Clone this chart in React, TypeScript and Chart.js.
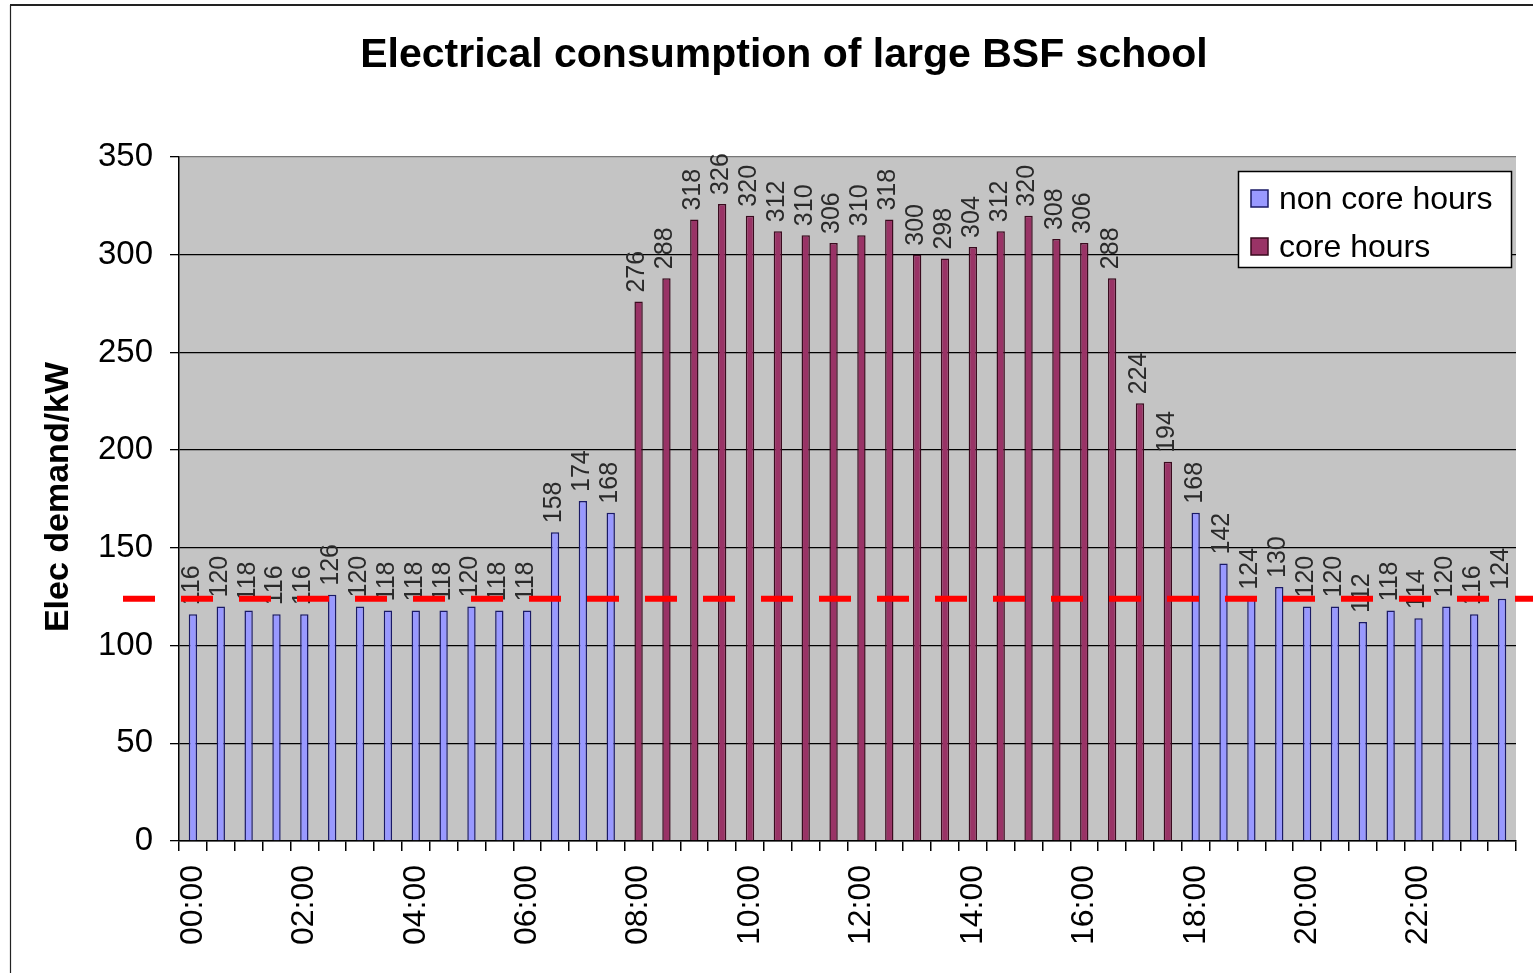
import React, { useEffect, useRef } from "react";
import { Chart, registerables } from "chart.js";

Chart.register(...registerables);

const TIME_LABELS = [
  "00:00", "00:30", "01:00", "01:30", "02:00", "02:30", "03:00", "03:30",
  "04:00", "04:30", "05:00", "05:30", "06:00", "06:30", "07:00", "07:30",
  "08:00", "08:30", "09:00", "09:30", "10:00", "10:30", "11:00", "11:30",
  "12:00", "12:30", "13:00", "13:30", "14:00", "14:30", "15:00", "15:30",
  "16:00", "16:30", "17:00", "17:30", "18:00", "18:30", "19:00", "19:30",
  "20:00", "20:30", "21:00", "21:30", "22:00", "22:30", "23:00", "23:30",
];

const NON_CORE_HOURS: (number | null)[] = [
  116, 120, 118, 116, 116, 126, 120, 118, 118, 118, 120, 118, 118, 158, 174, 168,
  null, null, null, null, null, null, null, null, null, null,
  null, null, null, null, null, null, null, null, null, null,
  168, 142, 124, 130, 120, 120, 112, 118, 114, 120, 116, 124,
];

const CORE_HOURS: (number | null)[] = [
  null, null, null, null, null, null, null, null,
  null, null, null, null, null, null, null, null,
  276, 288, 318, 326, 320, 312, 310, 306, 310, 318,
  300, 298, 304, 312, 320, 308, 306, 288, 224, 194,
  null, null, null, null, null, null, null, null, null, null, null, null,
];

const Y_TICKS = [0, 50, 100, 150, 200, 250, 300, 350];
const THRESHOLD = 124;

const TITLE = "Electrical consumption of large BSF school";
const Y_TITLE = "Elec demand/kW";
const SERIES_NAMES = ["non core hours", "core hours"];

const FONT = "'Liberation Sans', Arial, sans-serif";
const NON_CORE_FILL = "#9999ff";
const NON_CORE_BORDER = "#1a1a66";
const CORE_FILL = "#993366";
const CORE_BORDER = "#3a0a1e";

const decorPlugin = {
  id: "decor",
  beforeDraw(chart: any) {
    const { ctx, chartArea } = chart;
    ctx.save();
    ctx.fillStyle = "#ffffff";
    ctx.fillRect(0, 0, chart.width, chart.height);
    ctx.fillStyle = "#c4c4c4";
    ctx.fillRect(chartArea.left, chartArea.top, chartArea.right - chartArea.left, chartArea.bottom - chartArea.top);
    ctx.restore();
  },
  afterDatasetsDraw(chart: any) {
    const { ctx } = chart;
    ctx.save();
    ctx.font = `25px ${FONT}`;
    ctx.fillStyle = "#2a2a2a";
    ctx.textAlign = "left";
    ctx.textBaseline = "middle";
    chart.data.datasets.forEach((ds: any, di: number) => {
      const meta = chart.getDatasetMeta(di);
      meta.data.forEach((el: any, i: number) => {
        const v = ds.data[i];
        if (v === null || v === undefined) return;
        ctx.save();
        ctx.translate(el.x - 1, el.y - 9);
        ctx.rotate(-Math.PI / 2);
        ctx.fillText(String(v), 0, 0);
        ctx.restore();
      });
    });
    ctx.restore();
  },
  afterDraw(chart: any) {
    const { ctx, scales } = chart;
    ctx.save();
    // frame
    ctx.strokeStyle = "#222";
    ctx.lineWidth = 2;
    ctx.beginPath();
    ctx.moveTo(10, 5);
    ctx.lineTo(chart.width, 5);
    ctx.stroke();
    ctx.lineWidth = 1.2;
    ctx.beginPath();
    ctx.moveTo(10.5, 5);
    ctx.lineTo(10.5, chart.height);
    ctx.stroke();

    // title
    ctx.fillStyle = "#000";
    ctx.font = `bold 41px ${FONT}`;
    ctx.textAlign = "center";
    ctx.textBaseline = "middle";
    ctx.fillText(TITLE, 784, 56);

    // y title
    ctx.save();
    ctx.translate(59, 497);
    ctx.rotate(-Math.PI / 2);
    ctx.font = `bold 34px ${FONT}`;
    ctx.fillText(Y_TITLE, 0, 0);
    ctx.restore();

    // threshold dashed line
    const y = scales.y.getPixelForValue(THRESHOLD);
    ctx.strokeStyle = "#ff0000";
    ctx.lineWidth = 6;
    ctx.setLineDash([32, 26]);
    ctx.beginPath();
    ctx.moveTo(123, y);
    ctx.lineTo(chart.width, y);
    ctx.stroke();
    ctx.setLineDash([]);

    // legend
    const lx = 1238.5, ly = 171.5, lw = 273, lh = 96;
    ctx.fillStyle = "#ffffff";
    ctx.fillRect(lx, ly, lw, lh);
    ctx.strokeStyle = "#000";
    ctx.lineWidth = 1.5;
    ctx.strokeRect(lx, ly, lw, lh);
    const fills = [NON_CORE_FILL, CORE_FILL];
    const borders = [NON_CORE_BORDER, CORE_BORDER];
    ctx.font = `32px ${FONT}`;
    ctx.textAlign = "left";
    ctx.textBaseline = "middle";
    SERIES_NAMES.forEach((name, i) => {
      const cy = 199 + i * 48;
      ctx.fillStyle = fills[i];
      ctx.fillRect(1251, cy - 9, 17, 17);
      ctx.strokeStyle = borders[i];
      ctx.lineWidth = 1.5;
      ctx.strokeRect(1251, cy - 9, 17, 17);
      ctx.fillStyle = "#000";
      ctx.fillText(name, 1279, cy + 1);
    });
    ctx.restore();
  },
};

export default function App() {
  const canvasRef = useRef<HTMLCanvasElement | null>(null);

  useEffect(() => {
    if (!canvasRef.current) return;
    const chart = new Chart(canvasRef.current, {
      type: "bar",
      data: {
        labels: TIME_LABELS,
        datasets: [
          {
            label: SERIES_NAMES[0],
            data: NON_CORE_HOURS,
            backgroundColor: NON_CORE_FILL,
            borderColor: NON_CORE_BORDER,
            borderWidth: 1.5,
          },
          {
            label: SERIES_NAMES[1],
            data: CORE_HOURS,
            backgroundColor: CORE_FILL,
            borderColor: CORE_BORDER,
            borderWidth: 1.5,
          },
        ],
      },
      options: {
        animation: false,
        responsive: true,
        maintainAspectRatio: false,
        skipNull: true,
        datasets: { bar: { categoryPercentage: 1, barPercentage: 0.3 } },
        layout: { padding: { top: 157, right: 17, left: 0, bottom: 0 } },
        plugins: { legend: { display: false }, tooltip: { enabled: false } },
        scales: {
          x: {
            offset: true,
            grid: {
              offset: true,
              drawOnChartArea: false,
              drawTicks: true,
              tickLength: 10,
              tickColor: "#000",
              lineWidth: 1.5,
            },
            border: { display: true, color: "#000", width: 1.5 },
            ticks: {
              autoSkip: false,
              minRotation: 90,
              maxRotation: 90,
              padding: 14,
              color: "#000",
              font: { family: FONT, size: 32 },
              callback: (_v: any, i: number) => (i % 4 === 0 ? TIME_LABELS[i] : ""),
            },
            afterFit: (scale: any) => {
              scale.height = 132;
              scale.paddingLeft = 0;
              scale.paddingRight = 0;
            },
          },
          y: {
            min: Y_TICKS[0],
            max: Y_TICKS[Y_TICKS.length - 1],
            afterBuildTicks: (scale: any) => {
              scale.ticks = Y_TICKS.map((v) => ({ value: v }));
            },
            grid: {
              color: (c: any) => (c.tick && c.tick.value === 350 ? "#777" : "#000"),
              lineWidth: 1.3,
              drawTicks: true,
              tickLength: 9,
              tickColor: "#000",
            },
            border: { display: true, color: "#000", width: 1.5 },
            ticks: {
              padding: 17,
              color: "#000",
              font: { family: FONT, size: 33 },
            },
            afterFit: (scale: any) => {
              scale.width = 179;
            },
          },
        },
      } as any,
      plugins: [decorPlugin],
    });
    return () => chart.destroy();
  }, []);

  return (
    <div style={{ position: "fixed", left: 0, top: 0, width: 1533, height: 973, background: "#fff" }}>
      <canvas ref={canvasRef} />
    </div>
  );
}
